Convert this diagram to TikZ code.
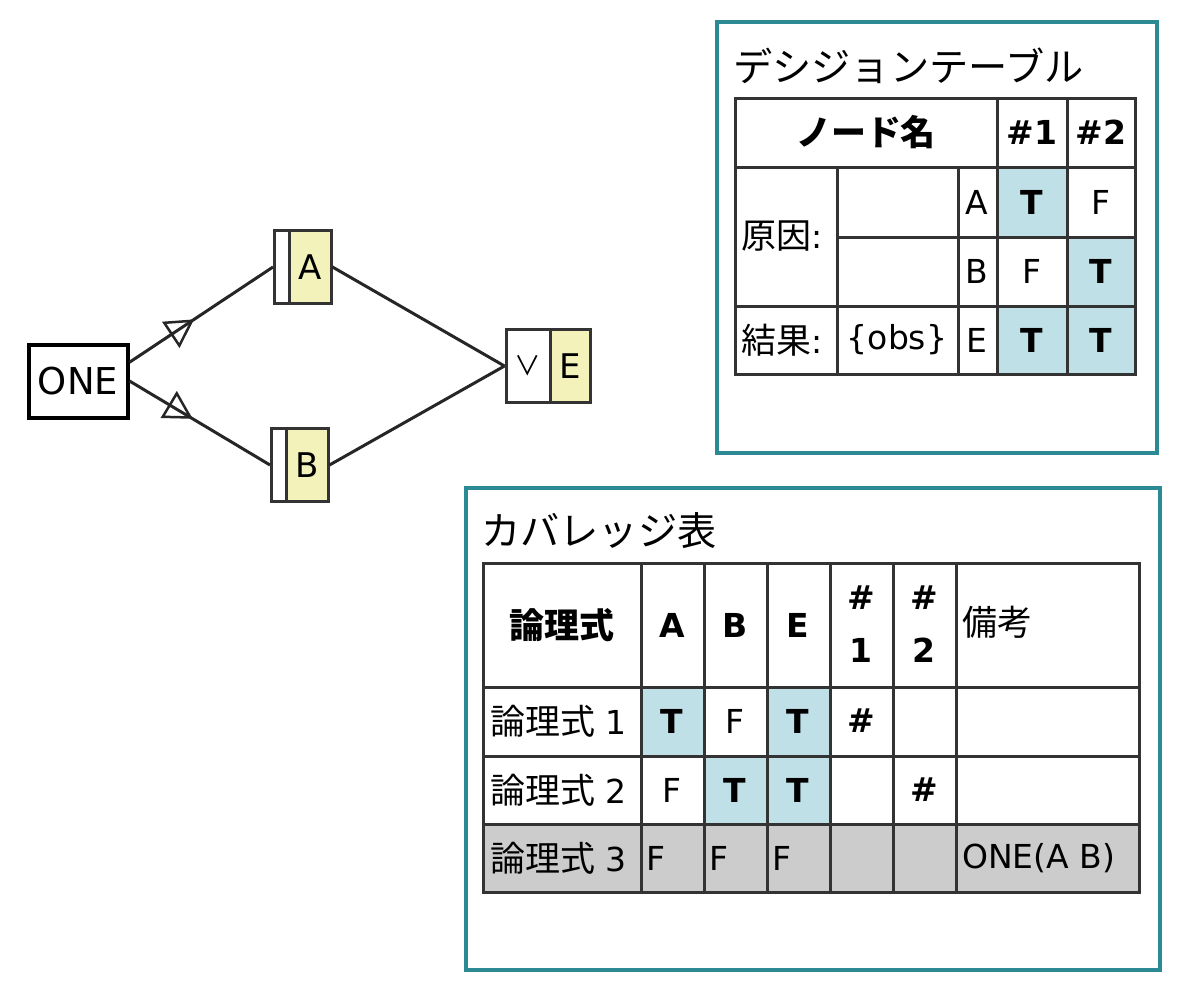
\documentclass[tikz,border=0pt]{standalone}
\usepackage{fontspec}
\setmainfont{DejaVu Sans}
\newfontfamily\jp[Scale=1.06]{Noto Sans CJK JP}
\usepackage{tikz}
\usetikzlibrary{arrows.meta,decorations.markings}
\definecolor{panelteal}{RGB}{43,138,148}
\definecolor{nodeyellow}{RGB}{242,242,186}
\definecolor{hitblue}{RGB}{191,224,230}
\definecolor{rowgray}{RGB}{204,204,204}
\definecolor{gridgray}{RGB}{51,51,51}
\newcommand{\txtsize}{\fontsize{33}{40}\selectfont}
\newcommand{\ttlsize}{\fontsize{37}{46}\selectfont}
\tikzstyle{Gstrip}=[shape=rectangle,draw=gridgray,line width=3pt,fill=white,minimum height=73,inner sep=0pt]
\tikzstyle{Gname}=[Gstrip,fill=nodeyellow,font=\fontsize{34}{40}\selectfont]
\tikzstyle{gedge}=[draw=black!85,line width=3pt]
\tikzstyle{oneedge}=[gedge,postaction={decorate},decoration={markings,mark=at position 0.45 with {\arrow{Triangle[open,length=28pt,width=31pt,line width=2.5pt]}}}]
\tikzstyle{panel}=[draw=panelteal,line width=4pt]
\tikzstyle{tline}=[draw=gridgray,line width=3pt]
\tikzstyle{dtcell}=[inner sep=0pt,font=\txtsize]
\tikzstyle{lcell}=[dtcell,anchor=west]
\tikzstyle{hcell}=[dtcell,font=\txtsize\bfseries]

\begin{document}
\begin{tikzpicture}[x=1pt,y=-1pt]
\useasboundingbox (0,0) rectangle (1188,994);

% graph
\node[Gstrip,draw=black,line width=4pt,minimum width=99,minimum height=73,font=\fontsize{37}{40}\selectfont] (ONE) at (78,381) {ONE};

\node[Gstrip,minimum width=15] (AW) at (282,267) {};
\node[Gname,minimum width=42] (A) at (310,267) {A};

\node[Gstrip,minimum width=15] (BW) at (279,465) {};
\node[Gname,minimum width=42] (B) at (307,465) {B};

\node[Gstrip,minimum width=44,font=\fontsize{25}{30}\selectfont] (EW) at (528,366) {\jp ∨};
\node[Gname,minimum width=40] (E) at (570,366) {E};

\path
(ONE.20) edge [oneedge] (AW.west)
(ONE.east) edge [oneedge] (BW.west)
(A.east) edge [gedge] (EW.west)
(B.east) edge [gedge] (EW.west);

% decision table
\draw[panel] (717,22) rectangle (1157,453);
\node[anchor=west,inner sep=0pt,font=\ttlsize] (DTTITLE) at (733,66) {\jp デシジョンテーブル};

\fill[hitblue] (997,167) rectangle (1067,237);
\fill[hitblue] (1067,237) rectangle (1135,306);
\fill[hitblue] (997,306) rectangle (1135,374);
\draw[tline] (735,98) rectangle (1135,374);
\draw[tline] (735,167) -- (1135,167) (837,237) -- (1135,237) (735,306) -- (1135,306);
\draw[tline] (837,167) -- (837,374) (958,167) -- (958,374) (997,98) -- (997,374) (1067,98) -- (1067,374);

\node[hcell] (DTNAME) at (866,132) {\jp ノード名};
\node[hcell] (DTH1) at (1032,132) {\#1};
\node[hcell] (DTH2) at (1101,132) {\#2};
\node[lcell] (DTCAUSE) at (741,236) {{\jp 原因}:};
\node[lcell] (DTEFFECT) at (741,340) {{\jp 結果}:};
\node[dtcell] (DTOBS) at (897,340) {\{obs\}};
\node[dtcell] (DTA) at (977,202) {A};
\node[dtcell] (DTB) at (977,271) {B};
\node[dtcell] (DTE) at (977,340) {E};
\node[hcell] (DTA1) at (1032,202) {T};
\node[dtcell] (DTA2) at (1101,202) {F};
\node[dtcell] (DTB1) at (1032,271) {F};
\node[hcell] (DTB2) at (1101,271) {T};
\node[hcell] (DTE1) at (1032,340) {T};
\node[hcell] (DTE2) at (1101,340) {T};

% coverage table
\draw[panel] (466,488) rectangle (1160,970);
\node[anchor=west,inner sep=0pt,font=\ttlsize] (CTTITLE) at (481,531) {\jp カバレッジ表};

\fill[hitblue] (641,687) rectangle (704,756);
\fill[hitblue] (767,687) rectangle (830,824);
\fill[hitblue] (704,756) rectangle (767,824);
\fill[rowgray] (483,824) rectangle (1139,892);
\draw[tline] (483,563) rectangle (1139,892);
\draw[tline] (483,687) -- (1139,687) (483,756) -- (1139,756) (483,824) -- (1139,824);
\draw[tline] (641,563) -- (641,892) (704,563) -- (704,892) (767,563) -- (767,892)
 (830,563) -- (830,892) (893,563) -- (893,892) (956,563) -- (956,892);

\node[hcell] (CTEXPR) at (562,625) {\jp 論理式};
\node[hcell] (CTA) at (672,625) {A};
\node[hcell] (CTB) at (735,625) {B};
\node[hcell] (CTE) at (798,625) {E};
\node[hcell,align=center,font=\fontsize{33}{53}\selectfont\bfseries] (CTH1) at (861,624) {\#\\1};
\node[hcell,align=center,font=\fontsize{33}{53}\selectfont\bfseries] (CTH2) at (924,624) {\#\\2};
\node[lcell] (CTNOTE) at (962,622) {\jp 備考};

\node[lcell] (CTR1) at (490,721) {{\jp 論理式} 1};
\node[hcell] (CTR1A) at (672,721) {T};
\node[dtcell] (CTR1B) at (735,721) {F};
\node[hcell] (CTR1E) at (798,721) {T};
\node[hcell] (CTR1H) at (861,721) {\#};

\node[lcell] (CTR2) at (490,790) {{\jp 論理式} 2};
\node[dtcell] (CTR2A) at (672,790) {F};
\node[hcell] (CTR2B) at (735,790) {T};
\node[hcell] (CTR2E) at (798,790) {T};
\node[hcell] (CTR2H) at (924,790) {\#};

\node[lcell] (CTR3) at (490,858) {{\jp 論理式} 3};
\node[lcell] (CTR3A) at (646,858) {F};
\node[lcell] (CTR3B) at (709,858) {F};
\node[lcell] (CTR3E) at (772,858) {F};
\node[lcell] (CTR3N) at (962,858) {ONE(A B)};

\end{tikzpicture}
\end{document}
